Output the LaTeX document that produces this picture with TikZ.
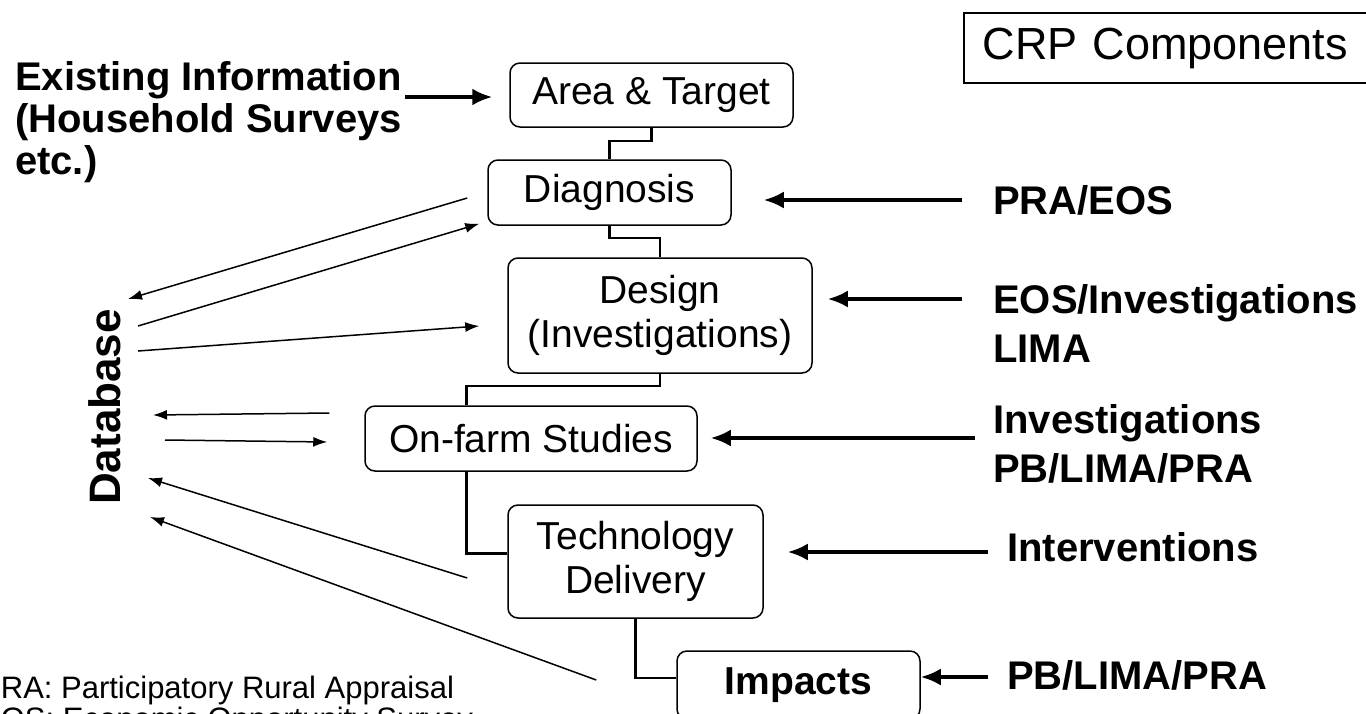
\documentclass[tikz,border=0pt]{standalone}
\usepackage{fontspec}
\setmainfont{Liberation Sans}
\usetikzlibrary{arrows.meta, positioning, calc}

\newcommand{\boxfont}{\fontsize{39}{44}\selectfont}
\newcommand{\tagfont}{\fontsize{40}{49}\selectfont\bfseries}
\newcommand{\infofont}{\fontsize{40}{42}\selectfont\bfseries}

\begin{document}
\begin{tikzpicture}[
    x=1pt, y=-1pt,
    stage/.style={draw, rounded corners=10pt, line width=1.5pt, align=center, inner sep=0pt, font=\boxfont},
    tag/.style={anchor=west, align=left, inner sep=0pt, font=\tagfont},
    link/.style={line width=2.5pt},
    feed/.style={-{Latex[length=20pt,width=17pt]}, line width=3.5pt},
    dbarrow/.style={-{Latex[length=14pt,width=10pt]}, line width=1.5pt}
]

% Frame
\useasboundingbox (0,0) rectangle (1366,713);
\fill[white] (0,0) rectangle (1366,713);
\clip (0,0) rectangle (1366,713);

% Title
\node[draw, line width=1.5pt, anchor=west, minimum height=70pt, text width=400pt, inner xsep=19pt, font=\fontsize{45}{50}\selectfont] (crp) at (963,48) {CRP Components};

% Stages
\node[stage, minimum width=283pt, minimum height=64pt] (area) at (651.5,95) {Area \& Target};
\node[stage, minimum width=243pt, minimum height=65pt] (diag) at (609.5,192.5) {Diagnosis};
\node[stage, minimum width=304pt, minimum height=115pt] (design) at (660,315.5) {Design\\(Investigations)};
\node[stage, minimum width=332pt, minimum height=65pt] (onfarm) at (531,438.5) {On-farm Studies};
\node[stage, minimum width=255pt, minimum height=113pt] (tech) at (635.5,561.5) {Technology\\Delivery};
\node[stage, minimum width=243pt, minimum height=68pt, font=\boxfont\bfseries] (impacts) at (798.5,685) {Impacts};

% Database
\node[rotate=90, inner sep=0pt, font=\fontsize{44}{50}\selectfont\bfseries] (db) at (105,407) {Database};

% Inputs
\node[tag, font=\infofont] (info) at (15,122) {Existing Information\\(Household Surveys\\etc.)};
\node[tag] (praeos) at (993,200) {PRA/EOS};
\node[tag] (eosinv) at (993,323.5) {EOS/Investigations\\LIMA};
\node[tag] (invest) at (993,444) {Investigations\\PB/LIMA/PRA};
\node[tag] (interv) at (1007,547) {Interventions};
\node[tag] (pblima) at (1007,675) {PB/LIMA/PRA};

% Legend
\node[anchor=north west, align=left, inner sep=0pt, font=\fontsize{31}{31}\selectfont] (legend) at (-20,676) {PRA: Participatory Rural Appraisal\\EOS: Economic Opportunity Survey};

% Stage links
\draw[link] (area.south) -- ++(0,13) -| (diag.north);
\draw[link] (diag.south) -- ++(0,12) -| (design.north);
\draw[link] (design.south) -- ++(0,12) -| ([xshift=102pt]onfarm.north west);
\draw[link] ([xshift=102pt]onfarm.south west) |- ([yshift=8pt]tech.west);
\draw[link] (tech.south) |- ([yshift=7pt]impacts.west);

% Input arrows
\draw[feed, shorten >=17pt] ([xshift=3pt,yshift=25pt]info.east) -- ([yshift=25pt]info.east -| area.west);
\draw[feed, shorten >=32pt] ([xshift=-31pt]praeos.west) -- (praeos.west -| diag.east);
\draw[feed, shorten >=15pt] ([xshift=-31pt,yshift=24.5pt]eosinv.west) -- ([yshift=24.5pt]eosinv.west -| design.east);
\draw[feed, shorten >=13pt] ([xshift=-18pt,yshift=6pt]invest.west) -- ([yshift=6pt]invest.west -| onfarm.east);
\draw[feed, shorten >=24pt] ([xshift=-19pt,yshift=-5pt]interv.west) -- ([yshift=-5pt]interv.west -| tech.east);
\draw[feed] ([xshift=-19pt,yshift=-2pt]pblima.west) -- ([yshift=-2pt]pblima.west -| impacts.east);

% Database arrows
\draw[dbarrow] ([xshift=-20pt,yshift=-5.5pt]diag.west) -- ([xshift=23pt,yshift=108pt]db.center);
\draw[dbarrow] ([xshift=33pt,yshift=81pt]db.center) -- ([xshift=-8pt,yshift=2pt]diag.south west);
\draw[dbarrow] ([xshift=33pt,yshift=56pt]db.center) -- ([xshift=-28pt,yshift=-10.5pt]design.west);
\draw[dbarrow] ([xshift=-35pt,yshift=25.5pt]onfarm.west) -- ([xshift=48pt,yshift=-8pt]db.center);
\draw[dbarrow] ([xshift=60pt,yshift=-33pt]db.center) -- ([xshift=-37pt,yshift=-3.5pt]onfarm.west);
\draw[dbarrow] ([xshift=-40pt,yshift=-16.5pt]tech.west) -- ([xshift=43pt,yshift=-71pt]db.center);
\draw[dbarrow] ([xshift=-80pt,yshift=5pt]impacts.west) -- ([xshift=45pt,yshift=-110pt]db.center);

\end{tikzpicture}
\end{document}
